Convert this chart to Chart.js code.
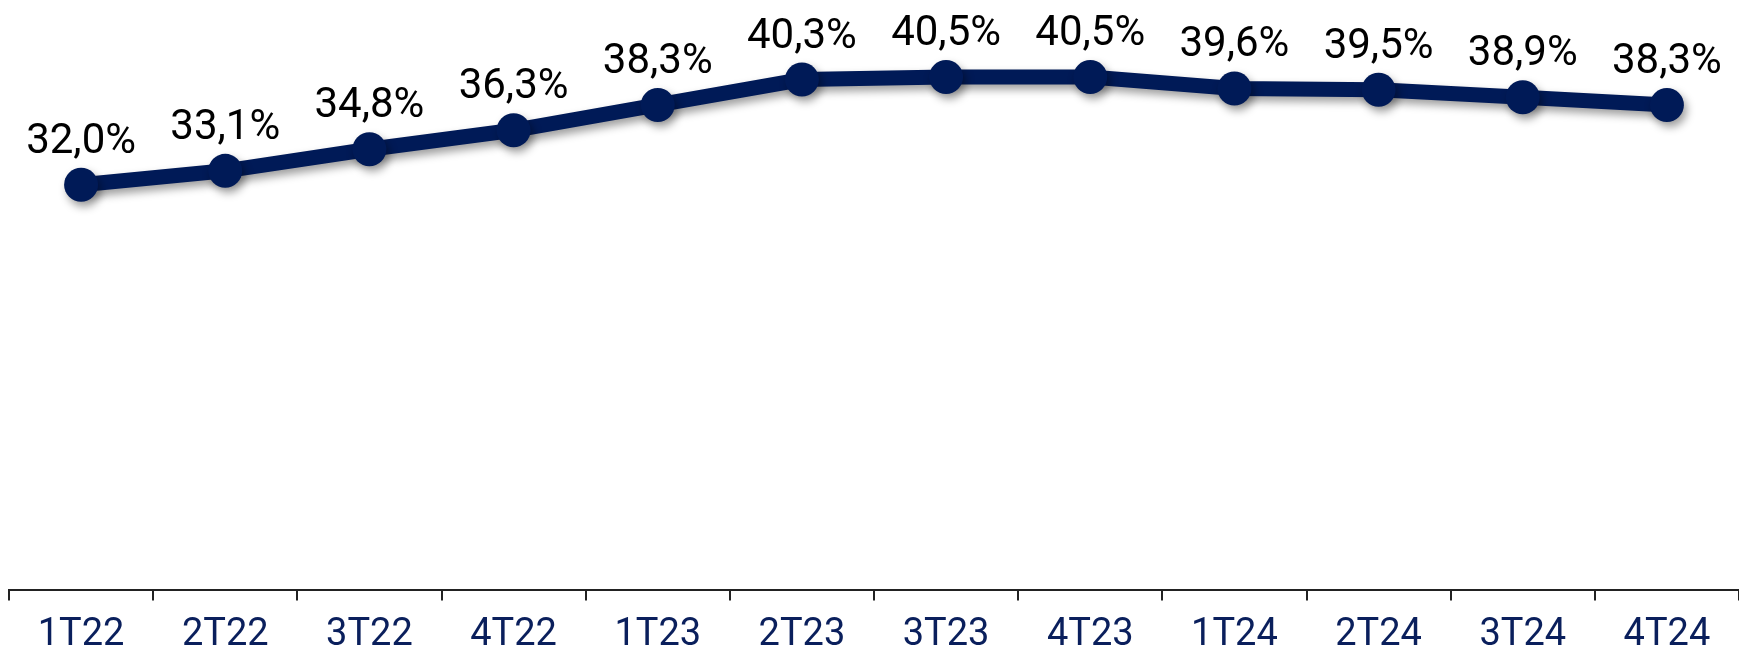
<!DOCTYPE html>
<html>
<head>
<meta charset="utf-8">
<script src="https://cdn.jsdelivr.net/npm/chart.js@4/dist/chart.umd.min.js"></script>
<style>
  html, body { margin: 0; padding: 0; background: #ffffff; overflow: hidden; }
  #wrap { width: 1739px; height: 653px; position: relative; }
</style>
</head>
<body>
<div id="wrap"><canvas id="c"></canvas></div>
<script>
const categories = ["1T22","2T22","3T22","4T22","1T23","2T23","3T23","4T23","1T24","2T24","3T24","4T24"];
const values = [32.0, 33.1, 34.8, 36.3, 38.3, 40.3, 40.5, 40.5, 39.6, 39.5, 38.9, 38.3];
const valueLabels = ["32,0%","33,1%","34,8%","36,3%","38,3%","40,3%","40,5%","40,5%","39,6%","39,5%","38,9%","38,3%"];

const NAVY = '#001a57';

const shadowPlugin = {
  id: 'shadow',
  beforeDatasetsDraw(chart) {
    const ctx = chart.ctx;
    ctx.save();
    ctx.shadowColor = 'rgba(0,0,0,0.38)';
    ctx.shadowBlur = 9;
    ctx.shadowOffsetX = 3;
    ctx.shadowOffsetY = 5;
  },
  afterDatasetsDraw(chart) {
    chart.ctx.restore();
  }
};

const labelPlugin = {
  id: 'valueLabels',
  afterDraw(chart) {
    const ctx = chart.ctx;
    const meta = chart.getDatasetMeta(0);
    ctx.save();
    ctx.font = '42px Roboto';
    ctx.fillStyle = '#000000';
    ctx.textAlign = 'center';
    ctx.textBaseline = 'alphabetic';
    meta.data.forEach((pt, i) => {
      ctx.fillText(valueLabels[i], pt.x, pt.y - 32);
    });
    ctx.restore();
  }
};

new Chart(document.getElementById('c'), {
  type: 'line',
  data: {
    labels: categories,
    datasets: [{
      data: values,
      borderColor: NAVY,
      backgroundColor: NAVY,
      borderWidth: 15,
      pointRadius: 17,
      pointHoverRadius: 17,
      pointBackgroundColor: NAVY,
      pointBorderWidth: 0,
      tension: 0,
      clip: false
    }]
  },
  options: {
    responsive: true,
    maintainAspectRatio: false,
    animation: false,
    events: [],
    layout: { autoPadding: false, padding: { top: 20, left: 9, right: -4, bottom: -17 } },
    plugins: { legend: { display: false }, tooltip: { enabled: false } },
    scales: {
      x: {
        offset: true,
        grid: {
          offset: true,
          drawOnChartArea: false,
          drawTicks: true,
          tickLength: 10,
          color: '#222222',
          lineWidth: 2
        },
        border: { display: true, color: '#222222', width: 2 },
        ticks: {
          color: '#0a1f5c',
          font: { family: 'Roboto', size: 38, lineHeight: 1.2 },
          padding: 12,
          maxRotation: 0,
          autoSkip: false
        }
      },
      y: {
        display: false,
        min: 0,
        max: 45
      }
    }
  },
  plugins: [shadowPlugin, labelPlugin]
});
</script>
</body>
</html>
